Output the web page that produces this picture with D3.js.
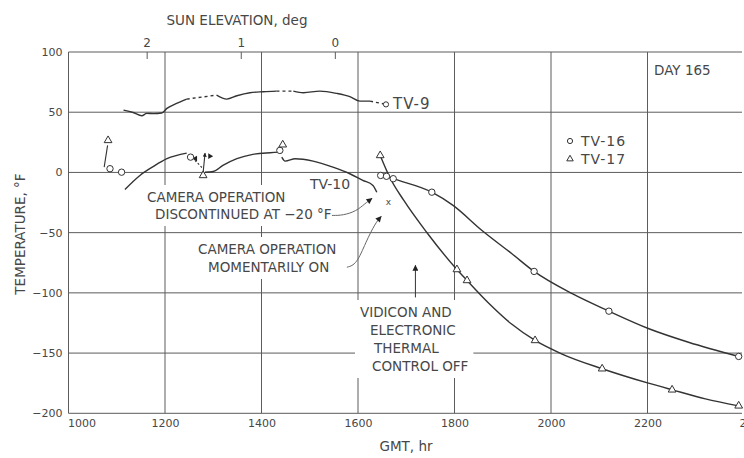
<!DOCTYPE html>
<html>
<head>
<meta charset="utf-8">
<script src="https://cdn.jsdelivr.net/npm/d3@7"></script>
<style>
    body { margin: 0; background: #fff; }
    svg text { font-family: "DejaVu Sans", sans-serif; fill: #474747; }
</style>
</head>
<body>
<div id="chart"></div>
<script>

// axis ticks
const gmtTicks = [1000, 1200, 1400, 1600, 1800, 2000, 2200, 2400];
const tempTicks = [100, 50, 0, -50, -100, -150, -200];
const sunTicks = [2, 1, 0];

// TV-9 trace [GMT hr, temp F]; segments that start at these hours are dashed
const tv9 = [[1114, 51.7], [1134, 49.8], [1152, 47.1], [1162, 49], [1176, 48.8], [1193, 49.3], [1204, 53.2],
    [1224, 57.3], [1245, 60.9], [1307, 64.2], [1328, 60.9], [1349, 63.7], [1376, 66.2], [1404, 67],
    [1431, 67.5], [1466, 67.5], [1487, 66.2], [1521, 67.5], [1556, 65.6], [1583, 62.9], [1604, 59.2],
    [1625, 59.2], [1658, 56.5]];
const tv9DashedFrom = [1245, 1431, 1625];

// TV-10 trace, three pieces
const tv10a = [[1117, -14.1], [1148, -2.5], [1176, 5], [1204, 11.4], [1245, 16]];
const tv10b = [[1283, 0.2], [1300, 0.8], [1320, 5.8], [1349, 11.4], [1382, 15], [1418, 16.4], [1438, 16.9]];
const tv10c = [[1442, 12.7], [1449, 9.4], [1470, 11.4], [1507, 9.4], [1548, 4.4], [1583, -1.1],
    [1610, -6.6], [1631, -10.8], [1639, -16.4]];

// TV-16 cool-down curve and its plotted points
const tv16 = [[1647, -2.5], [1659, -3.2], [1673, -5.2], [1753, -16.4], [1797, -27.4], [1857, -48.2],
    [1919, -67.5], [1965, -82.2], [2044, -100.7], [2120, -115.2], [2203, -129.8], [2285, -141], [2389, -152.8]];
const tv16Points = [[1086, 3.1], [1110, 0.2], [1253, 12.7], [1438, 18.3],
    [1647, -2.5], [1659, -3.2], [1673, -5.2], [1753, -16.4], [1965, -82.2], [2120, -115.2], [2389, -152.8]];

// TV-17 cool-down curve and its plotted points
const tv17 = [[1646, 14.1], [1666, -4.2], [1695, -23.3], [1743, -50.1], [1805, -80.6], [1826, -89.7],
    [1871, -108.6], [1919, -126.1], [1967, -139.5], [2023, -150.8], [2106, -163], [2202, -175],
    [2251, -180.5], [2320, -188], [2389, -193.8]];
const tv17Points = [[1082, 26.6], [1279, -2.5], [1444, 23],
    [1646, 14.1], [1805, -80.6], [1826, -89.7], [1967, -139.5], [2106, -163], [2251, -180.5], [2389, -193.8]];

const width = 744, height = 458;
const ink = "#333";
const gridInk = "#5c5c5c";

const svg = d3.select("#chart").append("svg")
    .attr("width", width)
    .attr("height", height);

svg.append("defs").selectAll("marker")
    .data([{id: "head", w: 9, h: 6}, {id: "headSmall", w: 6, h: 4}])
    .join("marker")
    .attr("id", d => d.id)
    .attr("viewBox", "0 -5 10 10")
    .attr("refX", 9).attr("refY", 0)
    .attr("markerUnits", "userSpaceOnUse")
    .attr("markerWidth", d => d.w).attr("markerHeight", d => d.h)
    .attr("orient", "auto")
    .append("path")
    .attr("d", "M0,-5L10,0L0,5Z")
    .attr("fill", "#222");

let xScale = d3.scaleLinear().domain([1000, 2400]).range([68.5, 744]);
let yScale = d3.scaleLinear().domain([-200, 100]).range([413.3, 52]);
let sunScale = d3.scaleLinear().domain([2, 0]).range([xScale(1162), xScale(1552)]);
const plotRight = 742;

// grid lines + frame
let grid = svg.append("g").attr("stroke", gridInk).attr("stroke-width", 1);
grid.selectAll(".h").data(tempTicks).join("line")
    .attr("x1", xScale(1000)).attr("x2", plotRight)
    .attr("y1", d => yScale(d)).attr("y2", d => yScale(d));
grid.selectAll(".v").data(gmtTicks.filter(d => d < 2400)).join("line")
    .attr("x1", d => xScale(d)).attr("x2", d => xScale(d))
    .attr("y1", yScale(100)).attr("y2", yScale(-200));

// axes
let yAxis = svg.append("g")
    .attr("transform", `translate(${xScale(1000)},0)`)
    .call(d3.axisLeft(yScale).tickValues(tempTicks).tickSize(0).tickPadding(6).tickFormat(d3.format("d")));
let xAxis = svg.append("g")
    .attr("transform", `translate(0,${yScale(-200)})`)
    .call(d3.axisBottom(xScale).tickValues(gmtTicks).tickSize(0).tickPadding(6).tickFormat(d3.format("d")));
let sunAxis = svg.append("g")
    .attr("transform", `translate(0,${yScale(100)})`)
    .call(d3.axisTop(sunScale).tickValues(sunTicks).tickSize(-7).tickPadding(5).tickFormat(d3.format("d")));

[yAxis, xAxis, sunAxis].forEach(a => {
    a.select(".domain").remove();
    a.selectAll("text").attr("fill", "#474747").style("font-size", "11px");
});
sunAxis.selectAll("line").attr("stroke", gridInk);
sunAxis.selectAll("text").style("font-size", "12px");
xAxis.selectAll(".tick text").filter(d => d === 1000).attr("text-anchor", "start").attr("x", -1);
xAxis.selectAll(".tick text").filter(d => d === 2400).attr("text-anchor", "start").attr("x", -5);

svg.append("text").attr("x", 237).attr("y", 25).attr("text-anchor", "middle")
    .style("font-size", "13.5px").text("SUN ELEVATION, deg");
svg.append("text").attr("x", 406).attr("y", 451).attr("text-anchor", "middle")
    .style("font-size", "13.5px").text("GMT, hr");
svg.append("text").attr("transform", "translate(25,234) rotate(-90)").attr("text-anchor", "middle")
    .style("font-size", "13.5px").text("TEMPERATURE, °F");

// annotation blocks: white box behind each so the grid breaks around it
function textBlock(lines, size) {
    let g = svg.append("g");
    lines.forEach(l => {
        g.append("text").attr("x", l[0]).attr("y", l[1])
            .style("font-size", size + "px").text(l[2]);
    });
    let bb = g.node().getBBox();
    g.insert("rect", "text")
        .attr("x", bb.x - 5).attr("y", bb.y - 4)
        .attr("width", bb.width + 10).attr("height", bb.height + 8)
        .attr("fill", "#fff");
    return g;
}

textBlock([[147, 202, "CAMERA OPERATION"], [155, 219, "DISCONTINUED AT −20 °F"]], 13.5);
textBlock([[198, 254, "CAMERA OPERATION"], [208, 272, "MOMENTARILY ON"]], 13.5);
textBlock([[360, 317, "VIDICON AND"], [370, 335, "ELECTRONIC"], [374, 353, "THERMAL"], [372, 371, "CONTROL OFF"]], 13.5);

// curves
let smooth = d3.line().x(d => xScale(d[0])).y(d => yScale(d[1])).curve(d3.curveMonotoneX);
let curves = svg.append("g").attr("fill", "none").attr("stroke", ink).attr("stroke-width", 1.4);

// TV-9 split into solid / dashed runs
let runs = [];
for (let i = 0; i < tv9.length - 1; i++) {
    let dashed = tv9DashedFrom.includes(tv9[i][0]);
    let last = runs[runs.length - 1];
    if (last && last.dashed === dashed) last.pts.push(tv9[i + 1]);
    else runs.push({dashed: dashed, pts: [tv9[i], tv9[i + 1]]});
}
curves.selectAll(".tv9").data(runs).join("path")
    .attr("d", d => smooth(d.pts))
    .attr("stroke-dasharray", d => d.dashed ? "3,3" : null);

curves.selectAll(".tv").data([tv10a, tv10b, tv10c, tv16, tv17]).join("path")
    .attr("class", "tv")
    .attr("d", smooth);

// short hand-drawn pointers near the early readings
let thin = svg.append("g").attr("fill", "none").attr("stroke", ink).attr("stroke-width", 1.1);
thin.append("path").attr("d", smooth([[1074, 4.4], [1081, 22.4]]));
thin.append("path").attr("d", smooth([[1262, 10], [1279, 3.1]])).attr("stroke-dasharray", "2,2");
thin.append("path").attr("d", d3.line()([[xScale(1279), yScale(0)], [xScale(1283), yScale(16)]]))
    .attr("marker-end", "url(#headSmall)");
thin.append("path").attr("d", d3.line()([[xScale(1440), yScale(15.5)], [xScale(1441), yScale(19)]]));

// leaders to the annotations
let leaders = svg.append("g").attr("fill", "none").attr("stroke", "#666").attr("stroke-width", 1);
let curvy = d3.line().x(d => xScale(d[0])).y(d => yScale(d[1])).curve(d3.curveBasis);
leaders.append("path")
    .attr("d", curvy([[1546, -35.7], [1569, -35.7], [1597, -32], [1614, -26], [1629, -21.6]]))
    .attr("marker-end", "url(#head)");
leaders.append("path")
    .attr("d", curvy([[1577, -78.7], [1597, -76.5], [1616, -58], [1636, -42], [1648, -36.5]]))
    .attr("marker-end", "url(#head)");
leaders.append("path")
    .attr("d", d3.line()([[xScale(1719), yScale(-103.8)], [xScale(1719), yScale(-77.2)]]))
    .attr("stroke", ink).attr("marker-end", "url(#head)");
svg.append("text").attr("x", xScale(1663)).attr("y", yScale(-24.7)).attr("dy", "0.35em")
    .attr("text-anchor", "middle").style("font-size", "9px").text("x");

// little flags beside the arrow near 1280
let flag = d3.symbol(d3.symbolTriangle, 14);
svg.append("path").attr("d", flag())
    .attr("transform", `translate(${xScale(1263)},${yScale(11.5)}) rotate(-90)`).attr("fill", "#222");
svg.append("path").attr("d", flag())
    .attr("transform", `translate(${xScale(1293)},${yScale(13.5)}) rotate(90)`).attr("fill", "#222");

// plotted points
let pts = svg.append("g").attr("fill", "#fff").attr("stroke", ink).attr("stroke-width", 1);
pts.selectAll("circle").data(tv16Points).join("circle")
    .attr("cx", d => xScale(d[0])).attr("cy", d => yScale(d[1])).attr("r", 3.2);
let tri = d3.symbol(d3.symbolTriangle, 26);
pts.selectAll(".tri").data(tv17Points).join("path")
    .attr("class", "tri")
    .attr("d", tri())
    .attr("transform", d => `translate(${xScale(d[0])},${yScale(d[1])})`);
pts.append("circle").attr("cx", xScale(1658)).attr("cy", yScale(56.5)).attr("r", 2.6);

// labels and legend
svg.append("text").attr("x", 393).attr("y", 109).style("font-size", "15px")
    .style("letter-spacing", "1px").text("TV-9");
svg.append("text").attr("x", 310).attr("y", 189).style("font-size", "14px").text("TV-10");
svg.append("text").attr("x", 654).attr("y", 75).style("font-size", "13.5px").text("DAY 165");

let legend = svg.append("g");
legend.append("circle").attr("cx", 570).attr("cy", 141).attr("r", 2.6)
    .attr("fill", "#fff").attr("stroke", ink);
legend.append("path").attr("d", d3.symbol(d3.symbolTriangle, 18)())
    .attr("transform", "translate(570,159)").attr("fill", "#fff").attr("stroke", ink);
legend.append("text").attr("x", 581).attr("y", 146).style("font-size", "14px")
    .style("letter-spacing", "1px").text("TV-16");
legend.append("text").attr("x", 581).attr("y", 164).style("font-size", "14px")
    .style("letter-spacing", "1px").text("TV-17");

</script>
</body>
</html>
